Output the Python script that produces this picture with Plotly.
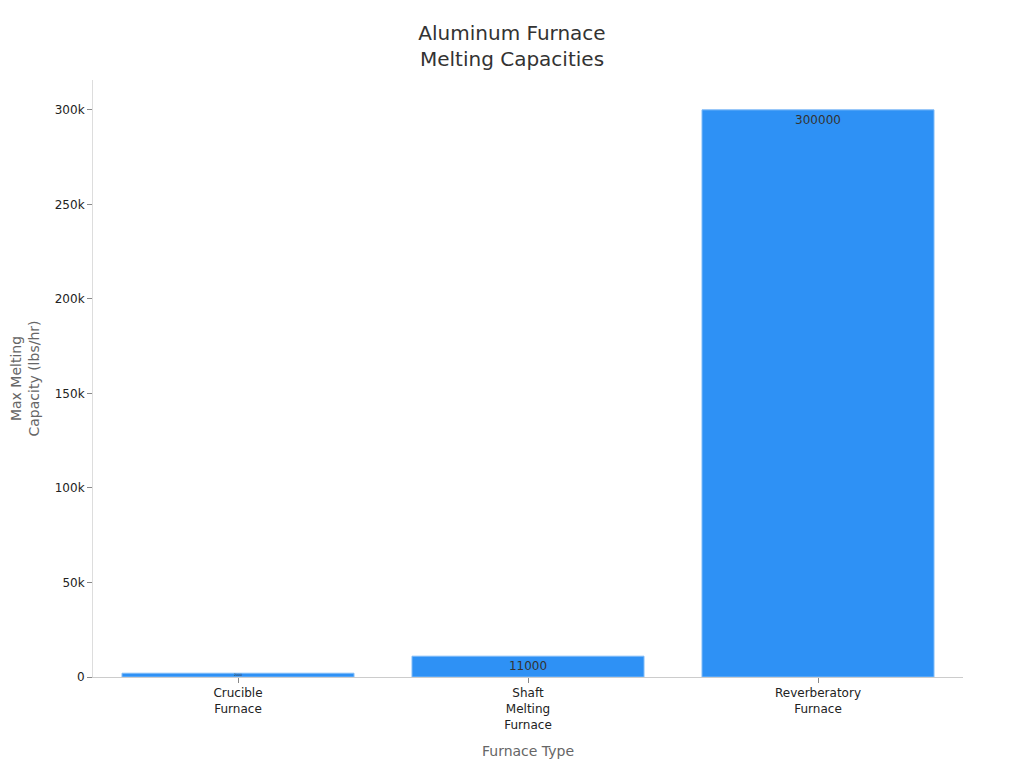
import plotly.graph_objects as go

furnaces = ["Crucible<br>Furnace", "Shaft<br>Melting<br>Furnace", "Reverberatory<br>Furnace"]
capacity = [2000, 11000, 300000]

fig = go.Figure()
fig.add_trace(go.Bar(
    x=furnaces, y=capacity,
    text=capacity, textposition="inside", insidetextanchor="end",
    insidetextfont=dict(color="#333333", size=12),
    marker=dict(color="#2E91F5", line=dict(color="#7FBBF8", width=1)),
    width=0.8,
))

fig.update_layout(
    title=dict(text="Aluminum Furnace<br>Melting Capacities", x=0.5, xanchor="center",
               y=0.957, yanchor="middle", font=dict(size=20, color="#333333")),
    font=dict(family="DejaVu Sans", size=12, color="#222222"),
    plot_bgcolor="white", paper_bgcolor="white",
    margin=dict(l=85, r=53, t=72, b=83),
    showlegend=False,
)
fig.update_xaxes(
    title=dict(text="Furnace Type", font=dict(size=14, color="#666666")),
    showline=True, linecolor="#CCCCCC", ticks="outside", tickcolor="#888888",
    ticklen=5, showgrid=False, automargin=False,
)
fig.update_yaxes(
    title=dict(text="Max Melting<br>Capacity (lbs/hr)", font=dict(size=14, color="#666666")),
    showline=True, linecolor="#DDDDDD", ticks="outside", tickcolor="#888888",
    ticklen=5, showgrid=False, zeroline=False, dtick=50000, automargin=False,
)

fig.write_html("out.html")
